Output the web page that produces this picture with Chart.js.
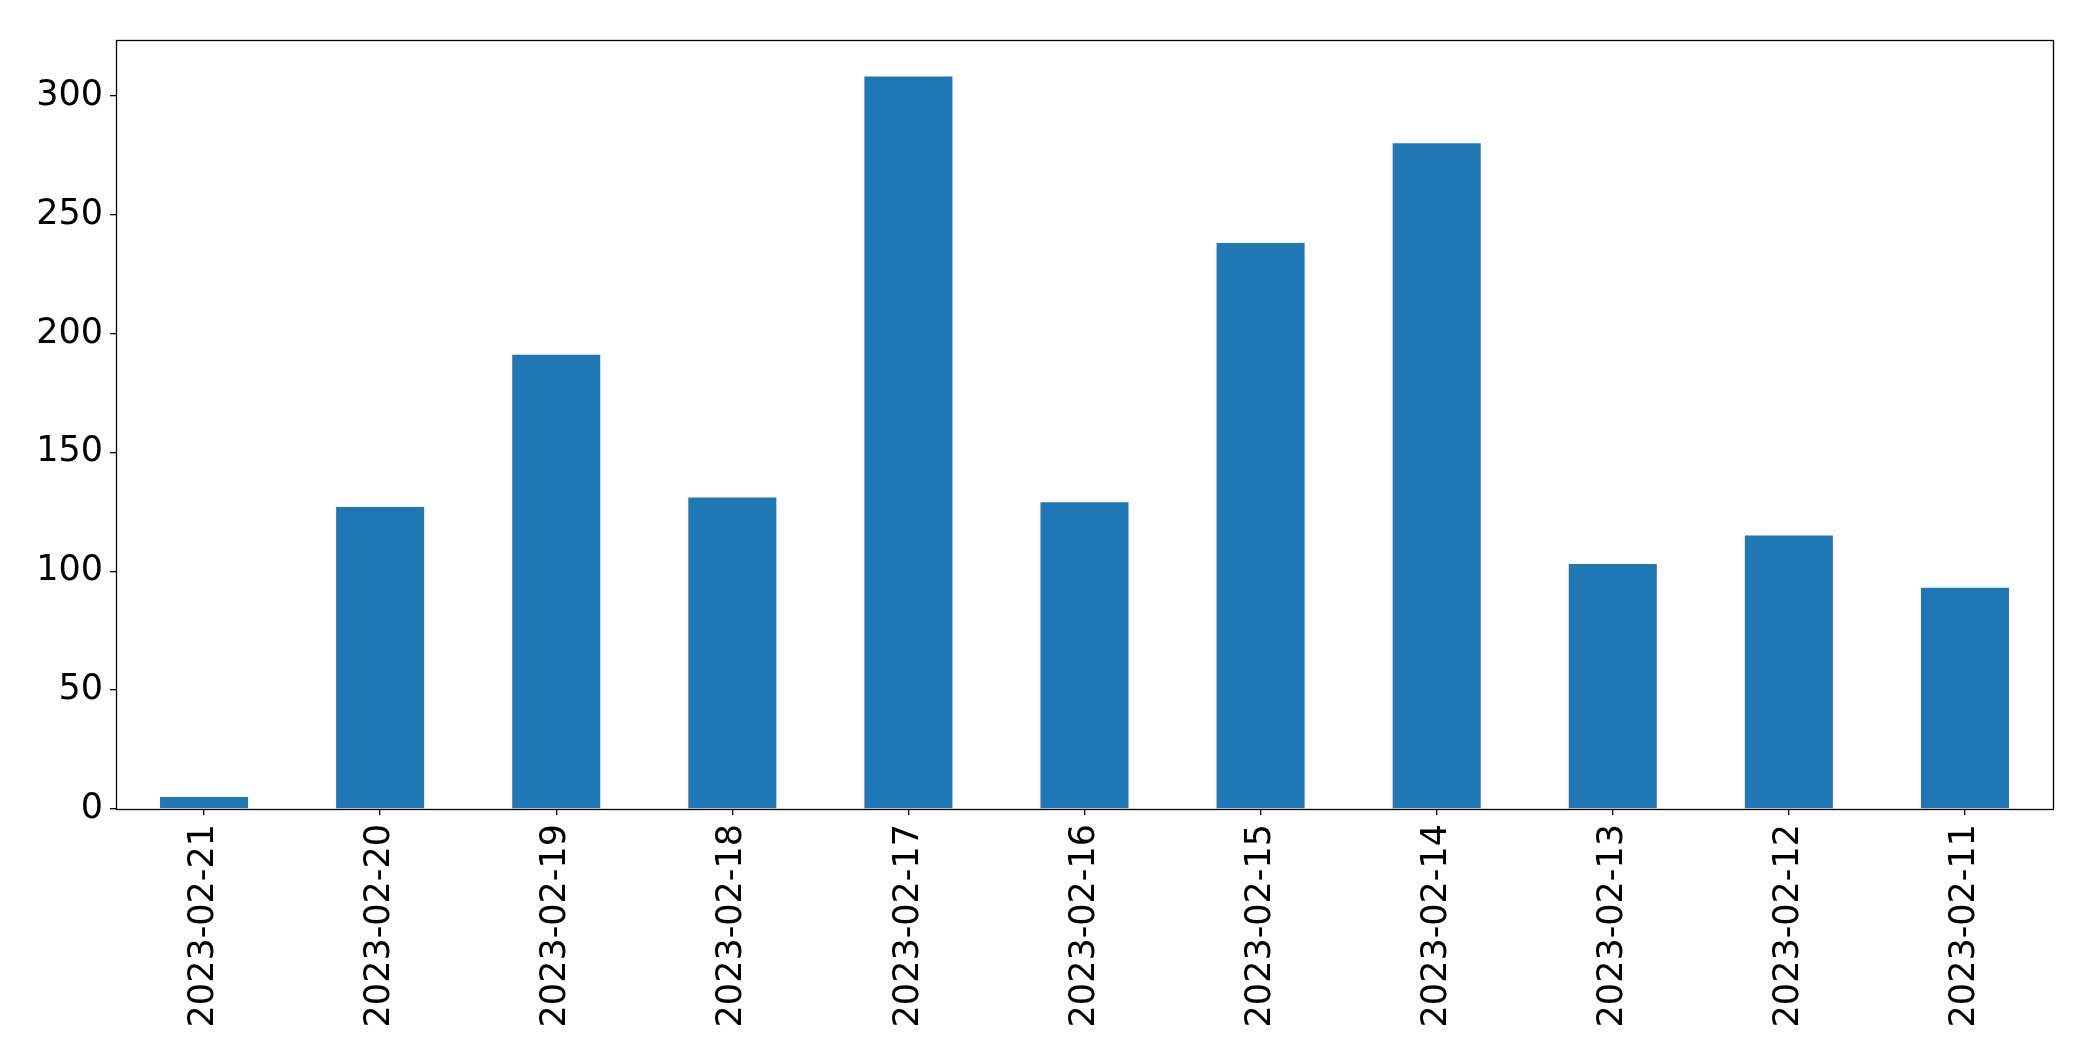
<!DOCTYPE html>
<html>
<head>
<meta charset="utf-8">
<script src="https://cdn.jsdelivr.net/npm/chart.js@4"></script>
<style>
    html, body { margin: 0; padding: 0; background: #fff; }
    #wrap { width: 2093px; height: 1061px; }
</style>
</head>
<body>
<div id="wrap"><canvas id="dailyChart" width="2093" height="1061"></canvas></div>
<script>
// Daily counts, newest first
const dates = ['2023-02-21', '2023-02-20', '2023-02-19', '2023-02-18', '2023-02-17', '2023-02-16',
               '2023-02-15', '2023-02-14', '2023-02-13', '2023-02-12', '2023-02-11'];
const counts = [5, 127, 191, 131, 308, 129, 238, 280, 103, 115, 93];
const yTicks = [0, 50, 100, 150, 200, 250, 300];

// Box around the plot area (matplotlib style frame)
const frame = {
    id: 'frame',
    afterDraw(chart) {
        const a = chart.chartArea;
        const ctx = chart.ctx;
        ctx.save();
        ctx.strokeStyle = '#000';
        ctx.lineWidth = 1.3;
        ctx.strokeRect(Math.round(a.left) + 0.5, Math.round(a.top) + 0.5,
                       Math.round(a.right - a.left), Math.round(a.bottom - a.top));
        ctx.restore();
    }
};

new Chart(document.getElementById('dailyChart'), {
    type: 'bar',
    data: {
        labels: dates,
        datasets: [{
            data: counts,
            backgroundColor: '#1f77b4',
            borderWidth: 0,
            barPercentage: 0.5,
            categoryPercentage: 1.0
        }]
    },
    options: {
        responsive: false,
        animation: false,
        layout: { padding: { top: 40, right: 40, left: 0, bottom: 0 } },
        plugins: {
            legend: { display: false },
            tooltip: { enabled: false }
        },
        scales: {
            x: {
                offset: true,
                grid: { offset: false, drawOnChartArea: false, drawTicks: true, tickLength: 6, color: '#000', lineWidth: 1.3 },
                border: { display: true, color: '#000' },
                ticks: {
                    minRotation: 90,
                    maxRotation: 90,
                    autoSkip: false,
                    padding: 9,
                    color: '#000',
                    font: { family: 'DejaVu Sans', size: 35 }
                },
                afterFit(scale) { scale.height = 252; }
            },
            y: {
                min: 0,
                max: Math.max(...counts) * 1.05,
                grid: { drawOnChartArea: false, drawTicks: true, tickLength: 6, color: '#000', lineWidth: 1.3 },
                border: { display: true, color: '#000' },
                ticks: {
                    stepSize: 50,
                    padding: 7,
                    color: '#000',
                    font: { family: 'DejaVu Sans', size: 35 }
                },
                afterBuildTicks(scale) {
                    scale.ticks = yTicks.map(v => ({ value: v }));
                },
                afterFit(scale) { scale.width = 116; }
            }
        }
    },
    plugins: [frame]
});
</script>
</body>
</html>
